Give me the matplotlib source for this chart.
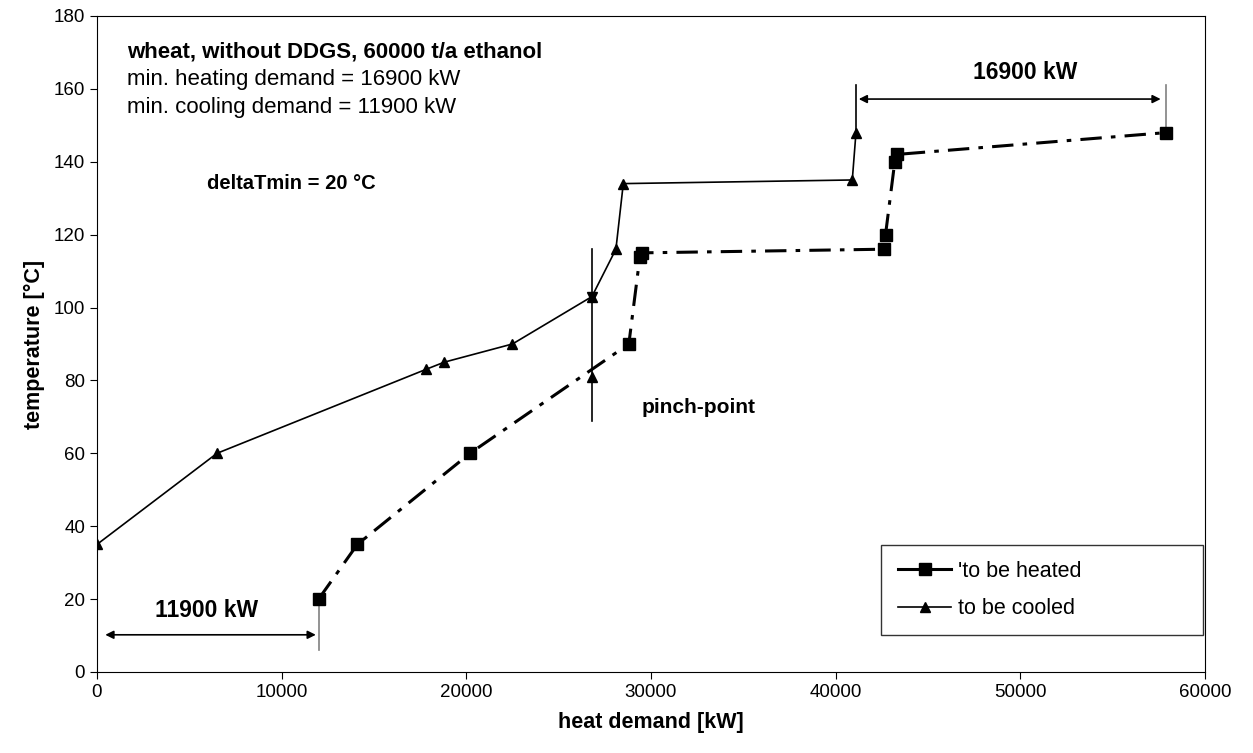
import matplotlib.pyplot as plt
from matplotlib.lines import Line2D

plt.rcParams['font.family'] = ['Liberation Sans', 'DejaVu Sans']

# hot streams (to be cooled)
cooled_x = [0, 6500, 17800, 18800, 22500, 26800, 28100, 28500, 40900, 41100]
cooled_y = [35, 60, 83, 85, 90, 103, 116, 134, 135, 148]

# cold streams (to be heated)
heated_x = [12000, 14100, 20200, 28800, 29400, 29500, 42600, 42700, 43200, 43300, 57900]
heated_y = [20, 35, 60, 90, 114, 115, 116, 120, 140, 142, 148]

pinch_x = 26800
pinch_span = [69, 116]
pinch_mark = 81

min_cooling = 11900
min_heating = 16900

fig = plt.figure(figsize=(12.53, 7.53), dpi=100)
ax = fig.add_axes([0.0774, 0.1076, 0.8843, 0.8712])

ax.plot(heated_x, heated_y, color='black', lw=2.2, linestyle=(0, (7, 3, 1.5, 3)),
        marker='s', markersize=8, zorder=3)
ax.plot(cooled_x, cooled_y, color='black', lw=1.2, marker='^', markersize=7, zorder=3)

# pinch line
ax.plot([pinch_x, pinch_x], pinch_span, color='black', lw=1.2)
ax.plot([pinch_x], [pinch_mark], color='black', marker='^', markersize=7)
ax.plot([pinch_x], [103], color='black', marker='v', markersize=7)

# min cooling demand
ax.plot([heated_x[0], heated_x[0]], [6, heated_y[0]], color='gray', lw=1.2)
ax.annotate('', xy=(300, 10.2), xytext=(heated_x[0], 10.2),
            arrowprops=dict(arrowstyle='<|-|>', color='black', lw=1.2, mutation_scale=12))
ax.text(5950, 16.8, f'{min_cooling} kW', ha='center', va='center', fontsize=16.5, fontweight='bold')

# min heating demand
ax.plot([cooled_x[-1], cooled_x[-1]], [148, 161], color='black', lw=1.2)
ax.plot([heated_x[-1], heated_x[-1]], [148, 161], color='gray', lw=1.2)
ax.annotate('', xy=(cooled_x[-1], 157.2), xytext=(57750, 157.2),
            arrowprops=dict(arrowstyle='<|-|>', color='black', lw=1.2, mutation_scale=12))
ax.text(50250, 164.4, f'{min_heating} kW', ha='center', va='center', fontsize=16.5, fontweight='bold')

ax.text(1650, 170, 'wheat, without DDGS, 60000 t/a ethanol', fontsize=16, fontweight='bold', va='center')
ax.text(1650, 162.6, f'min. heating demand = {min_heating} kW', fontsize=16, va='center')
ax.text(1650, 155, f'min. cooling demand = {min_cooling} kW', fontsize=16, va='center')
ax.text(5950, 134, 'deltaTmin = 20 °C', fontsize=14.5, fontweight='bold', va='center')
ax.text(29500, 72.5, 'pinch-point', fontsize=15, fontweight='bold', va='center')

handles = [Line2D([], [], color='black', lw=2.2, marker='s', markersize=8),
           Line2D([], [], color='black', lw=1.2, marker='^', markersize=7)]
leg = ax.legend(handles, ["'to be heated", 'to be cooled'], loc='lower left',
                bbox_to_anchor=(0.708, 0.056, 0.290, 0.145), mode='expand',
                fontsize=15.5, frameon=True, fancybox=False, edgecolor='black',
                borderpad=0.75, labelspacing=0.75, handlelength=2.5, handletextpad=0.3,
                borderaxespad=0)
leg.get_frame().set_linewidth(1.0)

ax.set_xlim(0, 60000)
ax.set_ylim(0, 180)
ax.set_xticks(range(0, 60001, 10000))
ax.set_yticks(range(0, 181, 20))
ax.tick_params(direction='out', length=5, labelsize=13.5)
ax.set_xlabel('heat demand [kW]', fontsize=15.5, fontweight='bold', labelpad=8)
ax.set_ylabel('temperature [°C]', fontsize=15.5, fontweight='bold', labelpad=6)

plt.savefig('out.png', dpi=100)
